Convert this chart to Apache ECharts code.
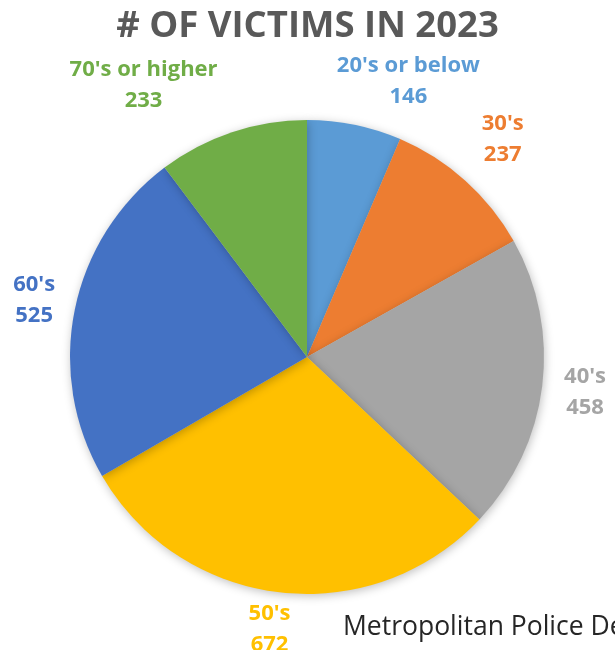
<!DOCTYPE html>
<html>
<head>
<meta charset="utf-8">
<script src="https://cdn.jsdelivr.net/npm/echarts@6/dist/echarts.min.js"></script>
<style>
  html, body { margin: 0; padding: 0; background: #fff; overflow: hidden; }
  #chart { width: 615px; height: 650px; }
</style>
</head>
<body>
<div id="chart"></div>
<script>
// Victims by age group, 2023
const ages = ["20's or below", "30's", "40's", "50's", "60's", "70's or higher"];
const victims = [146, 237, 458, 672, 525, 233];
const sliceColors = ['#5B9BD5', '#ED7D31', '#A5A5A5', '#FFC000', '#4472C4', '#70AD47'];

// Pie geometry (pixels) and label placement tweaks
const CX = 307, CY = 357, R = 237, GAP = 20;
const labelNudge = [[2, 6], [3, -4], [2, 0], [0, -14], [0, 0], [-8, 1]];

const total = victims.reduce((a, b) => a + b, 0);
function midAngle(i) {
  let before = 0;
  for (let k = 0; k < i; k++) before += victims[k];
  return (before + victims[i] / 2) / total * Math.PI * 2;
}

const FONT = "'Open Sans', 'Noto Sans', sans-serif";

const chart = echarts.init(document.getElementById('chart'), null, { renderer: 'canvas' });
chart.setOption({
  backgroundColor: '#ffffff',
  animation: false,
  title: {
    text: '# OF VICTIMS IN 2023',
    left: 'center',
    top: 3,
    textStyle: { fontFamily: FONT, fontSize: 36.5, fontWeight: 'bold', color: '#595959' }
  },
  graphic: [{
    type: 'text',
    x: 343,
    y: 627,
    style: {
      text: 'Metropolitan Police Department',
      fontFamily: FONT, fontSize: 26.5, fill: '#262626',
      verticalAlign: 'middle'
    }
  }],
  series: [{
    type: 'pie',
    center: [CX, CY],
    radius: R,
    startAngle: 90,
    clockwise: true,
    data: ages.map((name, i) => ({
      name: name,
      value: victims[i],
      itemStyle: { color: sliceColors[i] },
      label: { color: sliceColors[i] }
    })),
    itemStyle: {
      shadowBlur: 10,
      shadowColor: 'rgba(0,0,0,0.25)',
      shadowOffsetX: 1,
      shadowOffsetY: 2
    },
    label: {
      show: true,
      position: 'outside',
      formatter: '{b}\n{c}',
      fontFamily: FONT,
      fontSize: 22,
      fontWeight: 'bold',
      lineHeight: 31,
      align: 'center',
      overflow: 'none'
    },
    labelLine: { show: false },
    labelLayout: function (p) {
      const a = midAngle(p.dataIndex);
      const s = Math.sin(a), c = Math.cos(a);
      const w = p.labelRect.width, h = p.labelRect.height;
      const ax = CX + (R + GAP) * s, ay = CY - (R + GAP) * c;
      const hx = Math.sign(s) * Math.min(1, Math.abs(s) / 0.3) * w / 2;
      const hy = -c * h / 2;
      const n = labelNudge[p.dataIndex];
      return { x: ax + hx + n[0], y: ay + hy + n[1], align: 'center', verticalAlign: 'middle' };
    }
  }]
});
</script>
</body>
</html>
